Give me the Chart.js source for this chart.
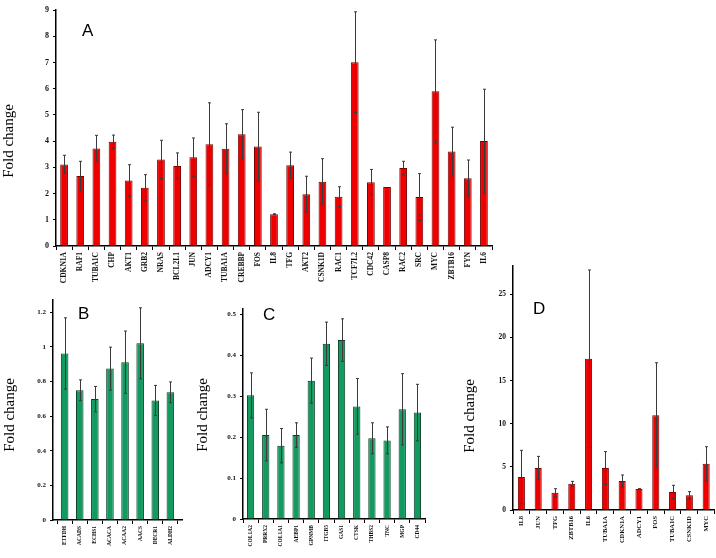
<!DOCTYPE html>
<html>
<head>
<meta charset="utf-8">
<script src="https://cdn.jsdelivr.net/npm/chart.js@4"></script>
<style>
  html,body{margin:0;padding:0;background:#fff;}
  body{width:716px;height:558px;position:relative;overflow:hidden;}
  canvas{position:absolute;}
  .lbl{position:absolute;font-family:"Liberation Sans",Arial,sans-serif;font-size:17px;line-height:17px;color:#000;}
</style>
</head>
<body>
<canvas id="cA" width="500" height="300" style="left:0;top:0"></canvas>
<canvas id="cB" width="190" height="265" style="left:0;top:290px"></canvas>
<canvas id="cC" width="245" height="265" style="left:190px;top:290px"></canvas>
<canvas id="cD" width="266" height="303" style="left:450px;top:255px"></canvas>
<div class="lbl" style="left:82px;top:22px">A</div>
<div class="lbl" style="left:78px;top:305px">B</div>
<div class="lbl" style="left:263px;top:306px">C</div>
<div class="lbl" style="left:533px;top:300px">D</div>
<script>
// ---------- DATA ----------
const genesA = ["CDKN1A","RAF1","TUBA1C","CHP","AKT1","GRB2","NRAS","BCL2L1","JUN","ADCY1","TUBA1A","CREBBP","FOS","IL8","TFG","AKT2","CSNK1D","RAC1","TCF7L2","CDC42","CASP8","RAC2","SRC","MYC","ZBTB16","FYN","IL6"];
const foldA  = [3.11,2.67,3.72,3.98,2.50,2.22,3.30,3.05,3.38,3.88,3.71,4.26,3.79,1.21,3.08,1.97,2.45,1.88,7.01,2.43,2.25,2.97,1.87,5.90,3.60,2.58,4.00];
const errA   = [0.35,0.56,0.50,0.25,0.60,0.50,0.73,0.50,0.74,1.58,0.95,0.94,1.31,0.02,0.50,0.69,0.88,0.38,1.92,0.49,0.00,0.26,0.89,1.96,0.93,0.70,1.98];
const ticksA = [0,1,2,3,4,5,6,7,8,9];

const genesB = ["ETFDH","ACADS","ECHS1","ACACA","ACAA2","AACS","DECR1","ALDH2"];
const foldB  = [0.961,0.749,0.698,0.874,0.911,1.020,0.690,0.737];
const errB   = [0.206,0.060,0.073,0.124,0.180,0.205,0.087,0.060];
const ticksB = [0,0.2,0.4,0.6,0.8,1,1.2];

const genesC = ["COL1A2","PRRX2","COL1A1","AEBP1","GPNMB","ITGB5","GAS1","CTSK","THBS2","TNC","MGP","CD44"];
const foldC  = [0.302,0.205,0.179,0.205,0.338,0.428,0.437,0.275,0.197,0.192,0.268,0.260];
const errC   = [0.055,0.063,0.042,0.030,0.055,0.053,0.052,0.068,0.038,0.033,0.087,0.069];
const ticksC = [0,0.1,0.2,0.3,0.4,0.5];

const genesD = ["IL8","JUN","TFG","ZBTB16","IL6","TUBA1A","CDKN1A","ADCY1","FOS","TUBA1C","CSNK1D","MYC"];
const foldD  = [3.83,4.87,2.00,3.05,17.54,4.87,3.36,2.43,11.00,2.09,1.70,5.37];
const errD   = [3.09,1.35,0.47,0.27,10.30,1.90,0.70,0.05,6.08,0.77,0.43,1.97];
const ticksD = [0,5,10,15,20,25];

const yTitle = "Fold change";

// ---------- RENDERING ----------
const errPlugin = {
  id: 'errbars',
  afterDatasetsDraw(chart) {
    const ctx = chart.ctx, ys = chart.scales.y;
    const ds = chart.data.datasets[0], meta = chart.getDatasetMeta(0);
    ctx.save();
    ctx.strokeStyle = '#3a3a3a';
    ctx.lineWidth = 1;
    meta.data.forEach((bar, i) => {
      const e = ds.errors[i];
      if (!e) return;
      const v = ds.data[i];
      const x = Math.round(bar.x) + 0.5;
      const yt = ys.getPixelForValue(v + e), yb = ys.getPixelForValue(v - e);
      ctx.beginPath();
      ctx.moveTo(x, yt); ctx.lineTo(x, yb);
      ctx.moveTo(x - 1.5, yt); ctx.lineTo(x + 1.5, yt);
      ctx.moveTo(x - 1.5, yb); ctx.lineTo(x + 1.5, yb);
      ctx.stroke();
    });
    ctx.restore();
  }
};

const titlePlugin = {
  id: 'ytitle',
  afterDraw(chart) {
    const o = chart.options.plugins.ytitle;
    const ctx = chart.ctx;
    ctx.save();
    ctx.translate(o.x, o.y);
    ctx.rotate(-Math.PI / 2);
    ctx.font = '15px "Liberation Serif","Times New Roman",serif';
    ctx.fillStyle = '#000';
    ctx.textAlign = 'center';
    ctx.textBaseline = 'middle';
    ctx.fillText(o.text, 0, 0);
    ctx.restore();
  }
};

function makeChart(id, labels, values, errors, tickVals, cfg) {
  const n = labels.length;
  return new Chart(document.getElementById(id), {
    type: 'bar',
    data: {
      labels: labels,
      datasets: [{
        data: values,
        errors: errors,
        backgroundColor: cfg.fill,
        borderColor: cfg.edge,
        borderWidth: 1,
        barPercentage: cfg.barPct,
        categoryPercentage: 1
      }]
    },
    options: {
      responsive: false,
      animation: false,
      devicePixelRatio: 1,
      layout: { padding: cfg.pad },
      plugins: {
        legend: { display: false }, tooltip: { enabled: false },
        ytitle: { text: yTitle, x: cfg.tx, y: cfg.ty }
      },
      scales: {
        x: {
          grid: { display: true, drawOnChartArea: false, drawTicks: true, tickLength: 4, color: '#000', lineWidth: 1 },
          border: { display: true, color: '#000', width: 1.5 },
          ticks: {
            minRotation: 90, maxRotation: 90, autoSkip: false, padding: 2, color: '#111',
            font: { family: '"Liberation Serif","Times New Roman",serif', size: cfg.xFont, weight: 'bold' }
          },
          afterCalculateLabelRotation(s) {
            if (cfg.xOff) { s._startValue = -cfg.xOff; s._valueRange = n - 1 + 2 * cfg.xOff; }
          },
          afterFit(s) { s.height = cfg.xH; }
        },
        y: {
          min: 0, max: cfg.max,
          grid: { display: true, drawOnChartArea: false, drawTicks: true, tickLength: 3, color: '#000', lineWidth: 1 },
          border: { display: true, color: '#000', width: 1.5 },
          ticks: {
            padding: 4, color: '#111',
            font: { family: '"Liberation Serif","Times New Roman",serif', size: cfg.yFont, weight: 'bold' },
            callback: v => String(v)
          },
          afterBuildTicks(s) { s.ticks = tickVals.map(v => ({ value: v })); },
          afterFit(s) { s.width = cfg.yW; }
        }
      }
    },
    plugins: [errPlugin, titlePlugin]
  });
}

const RED = '#ee0000', RED_EDGE = '#7a0000';
const GRN = '#129a60', GRN_EDGE = '#0a3a24';

makeChart('cA', genesA, foldA, errA, ticksA,
  { fill: RED, edge: RED_EDGE, barPct: 0.48, max: 9, pad: { top: 10, right: 8, left: 0, bottom: 0 },
    xH: 54, yW: 56, xFont: 7.5, yFont: 8, tx: 9, ty: 141 });
makeChart('cB', genesB, foldB, errB, ticksB,
  { fill: GRN, edge: GRN_EDGE, barPct: 0.5, max: 1.27, pad: { top: 10, right: 8, left: 0, bottom: 0 },
    xH: 35, yW: 53, xFont: 5.5, yFont: 7, tx: 10, ty: 125, xOff: 0.77 });
makeChart('cC', genesC, foldC, errC, ticksC,
  { fill: GRN, edge: GRN_EDGE, barPct: 0.48, max: 0.513, pad: { top: 19, right: 10, left: 0, bottom: 0 },
    xH: 36, yW: 53, xFont: 5.5, yFont: 7, tx: 13, ty: 125 });
makeChart('cD', genesD, foldD, errD, ticksD,
  { fill: RED, edge: RED_EDGE, barPct: 0.42, max: 28.3, pad: { top: 11, right: 1, left: 0, bottom: 0 },
    xH: 48, yW: 63, xFont: 6.5, yFont: 7.5, tx: 20, ty: 161 });
</script>
</body>
</html>
